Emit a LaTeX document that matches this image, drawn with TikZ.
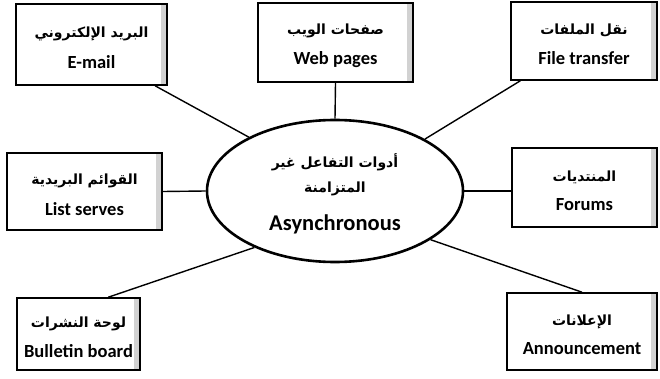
\documentclass[tikz,border=0pt]{standalone}
\usepackage{fontspec}
\setmainfont{Carlito}
\newfontfamily\arabicfont[Script=Arabic]{DejaVu Sans}
\TeXXeTstate=1
\usetikzlibrary{shapes.geometric,calc}
\newcommand\artxt[1]{{\arabicfont\fontsize{14}{16}\selectfont\beginR #1\endR}}
\newcommand\entxt[1]{{\fontsize{18.5}{22}\selectfont #1}}
\newcommand\topstrut[1]{\rule{0pt}{#1}}
\tikzset{
  toolbox/.style={draw=black, line width=1.6pt, rectangle, inner sep=0pt,
    font=\bfseries, align=center,
    path picture={\fill[gray!35] ([xshift=-6pt]path picture bounding box.north east) rectangle (path picture bounding box.south east);}},
  centre/.style={draw=black, line width=2.6pt, ellipse, inner sep=0pt,
    minimum width=256pt, minimum height=142pt, font=\bfseries, align=center},
  link/.style={draw=black, line width=1.4pt}
}
\begin{document}
\begin{tikzpicture}[x=1pt,y=-1pt]
\path[use as bounding box] (0,0) rectangle (660,379);
\node[centre] (ell) at (335,191) {\topstrut{20pt}\artxt{أدوات التفاعل غير}\\[10pt]\artxt{المتزامنة}\\[18pt]{\fontsize{22.5}{26}\selectfont Asynchronous}};
\node[toolbox, minimum width=151pt, minimum height=81pt] (email) at (91.5,44.5) {\topstrut{17pt}\artxt{البريد الإلكتروني}\\[13pt]\entxt{E-mail}};
\node[toolbox, minimum width=155pt, minimum height=79pt] (web) at (335.5,42.5) {\topstrut{17pt}\artxt{صفحات الويب}\\[13pt]\entxt{Web pages}};
\node[toolbox, minimum width=146pt, minimum height=78pt] (file) at (584,41) {\topstrut{17pt}\artxt{نقل الملفات}\\[13pt]\entxt{File transfer}};
\node[toolbox, minimum width=155pt, minimum height=77pt] (list) at (84.5,191.5) {\topstrut{17pt}\artxt{القوائم البريدية}\\[13pt]\entxt{List serves}};
\node[toolbox, minimum width=145pt, minimum height=79pt] (forums) at (584.5,187.5) {\topstrut{17pt}\artxt{المنتديات}\\[13pt]\entxt{Forums}};
\node[toolbox, minimum width=123pt, minimum height=72pt] (bulletin) at (78.5,334) {\topstrut{17pt}\artxt{لوحة النشرات}\\[13pt]\entxt{Bulletin board}};
\node[toolbox, minimum width=150pt, minimum height=77pt] (announce) at (582,331.5) {\topstrut{17pt}\artxt{الإعلانات}\\[13pt]\entxt{Announcement}};
\draw[link] (email.-33.4) -- (ell.148.9);
\draw[link] (web.south) -- (ell.north);
\draw[link] (file.212.6) -- (ell.30);
\draw[link] (list.east) -- (ell.west);
\draw[link] (forums.west |- ell.east) -- (ell.east);
\draw[link] (bulletin.51.6) -- (ell.215.5);
\draw[link] (announce.north) -- (ell.333.7);
\end{tikzpicture}
\end{document}
